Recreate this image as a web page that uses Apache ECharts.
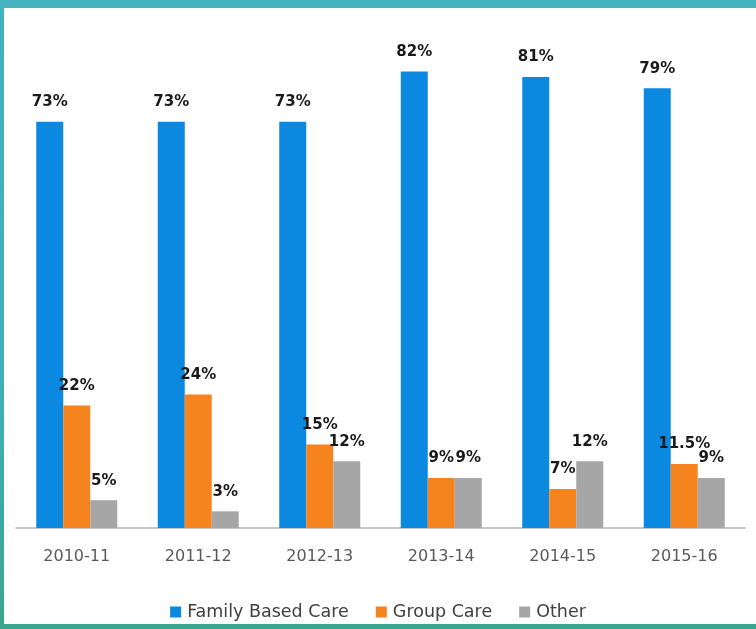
<!DOCTYPE html>
<html>
<head>
<meta charset="utf-8">
<script src="https://cdn.jsdelivr.net/npm/echarts@6/dist/echarts.min.js"></script>
<style>
  html, body { margin: 0; padding: 0; }
  body {
    width: 756px; height: 629px; overflow: hidden;
    background: linear-gradient(180deg, #44b2bf 0%, #41b0b8 60%, #3aa68f 100%);
  }
  #main { width: 756px; height: 629px; }
</style>
</head>
<body>
<div id="main"></div>
<script>
const categories = ['2010-11', '2011-12', '2012-13', '2013-14', '2014-15', '2015-16'];
const familyBased = [73, 73, 73, 82, 81, 79];
const groupCare = [22, 24, 15, 9, 7, 11.5];
const other = [5, 3, 12, 9, 12, 9];
const seriesNames = ['Family Based Care', 'Group Care', 'Other'];
const colors = ['#0b89e1', '#f5841f', '#a6a6a6'];

const chart = echarts.init(document.getElementById('main'));

const labelStyle = {
  show: true,
  position: 'top',
  distance: 12,
  formatter: p => p.value + '%',
  fontFamily: 'DejaVu Sans',
  fontWeight: 'bold',
  fontSize: 15,
  color: '#1a1a1a'
};

function mk(name, data, color) {
  return {
    name: name,
    type: 'bar',
    data: data,
    barWidth: 27,
    barGap: '0%',
    itemStyle: { color: color },
    label: labelStyle,
    emphasis: { disabled: true }
  };
}

chart.setOption({
  animation: false,
  backgroundColor: 'transparent',
  graphic: [{
    type: 'rect',
    z: -10,
    silent: true,
    shape: { x: 4, y: 8, width: 752, height: 616 },
    style: { fill: '#ffffff' }
  }],
  grid: { left: 16, right: 11, top: 27, bottom: 101, containLabel: false },
  xAxis: {
    type: 'category',
    data: categories,
    axisLine: { lineStyle: { color: '#b4b4b4', width: 1.5 } },
    axisTick: { show: false },
    axisLabel: {
      fontFamily: 'DejaVu Sans',
      fontSize: 16,
      color: '#595959',
      margin: 21
    }
  },
  yAxis: {
    type: 'value',
    min: 0,
    max: 90,
    show: false,
    splitLine: { show: false }
  },
  legend: {
    data: seriesNames,
    left: 'center',
    top: 598,
    icon: 'rect',
    itemWidth: 11,
    itemHeight: 11,
    itemGap: 27,
    textStyle: {
      fontFamily: 'DejaVu Sans',
      fontSize: 17.5,
      color: '#404040',
      padding: [0, 0, 0, 1]
    }
  },
  series: [
    mk(seriesNames[0], familyBased, colors[0]),
    mk(seriesNames[1], groupCare, colors[1]),
    mk(seriesNames[2], other, colors[2])
  ]
});
</script>
</body>
</html>
